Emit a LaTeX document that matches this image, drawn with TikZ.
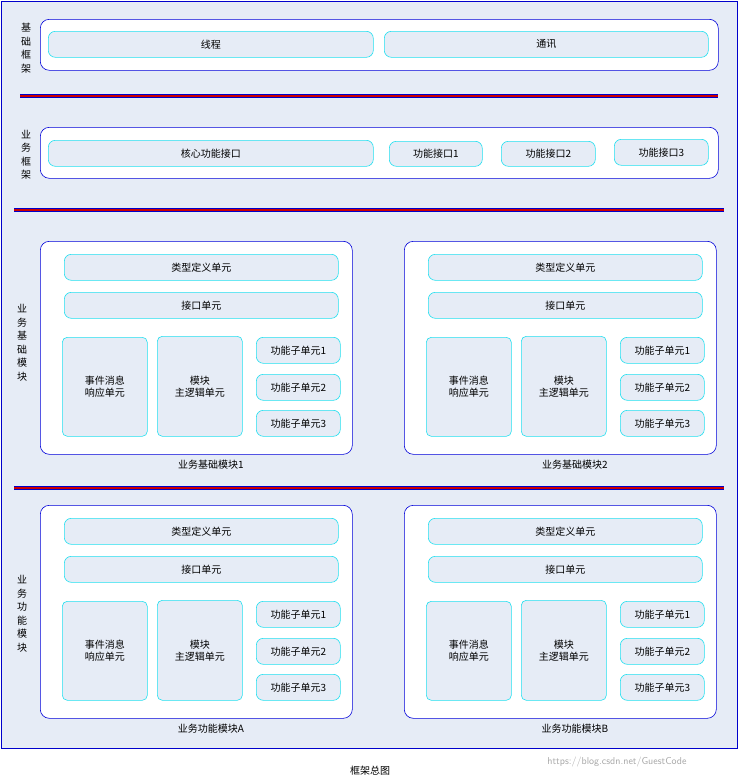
\documentclass[tikz,border=0pt]{standalone}
\usepackage{fontspec}
\setmainfont{Liberation Serif}
\newfontfamily\cjk{Noto Sans CJK SC}
\begin{document}
\begin{tikzpicture}[x=1pt,y=-1pt,
  font=\cjk\fontsize{10}{12}\selectfont,
  bg/.style={draw=blue!80!black,fill=bgc,line width=0.6pt},
  grp/.style={draw=blue!85!black,fill=white,rounded corners=9pt,line width=0.6pt},
  pill/.style={draw=cyanb,fill=bgc,rounded corners=7pt,line width=0.6pt,align=center},
  blk/.style={draw=cyanb,fill=bgc,rounded corners=5pt,line width=0.6pt,align=center},
  lbl/.style={align=center,font=\cjk\fontsize{10}{13.5}\selectfont},
]
\definecolor{bgc}{HTML}{E6ECF6}
\definecolor{cyanb}{HTML}{22E0F0}
\useasboundingbox (0,0) rectangle (738,780);
\node[bg,minimum width=736,minimum height=747,anchor=north west,inner sep=0] (outer) at (1,1) {};
\node (cap) at (370,771) {框架总图};
\node[text=gray!70,font=\sffamily\fontsize{10}{12}\selectfont] (wm) at (617,762) {https://blog.csdn.net/GuestCode};
\newcommand\boxat[5]{\node[#1,anchor=north west,minimum width={#4-#2},minimum height={#5-#3},inner sep=0] at (#2,#3)}
\newcommand\sep[3]{\coordinate (#1a) at (#2,#3); \coordinate (#1b) at (738-#2,#3);
 \draw[blue!80!black,line width=3.2pt] (#1a) -- (#1b); \draw[red!80!black,line width=1.6pt] (#1a) -- (#1b);}
% section 1
\node[lbl] (l1) at (26,48) {基\\础\\框\\架};
\boxat{grp}{40}{19}{718}{70} (g1) {};
\boxat{pill}{48}{31}{373}{57} (p11) {线程};
\boxat{pill}{384}{31}{708}{57} (p12) {通讯};
\sep{s1}{20}{96}
% section 2
\node[lbl] (l2) at (26,155) {业\\务\\框\\架};
\boxat{grp}{40}{127}{718}{178} (g2) {};
\boxat{pill}{48}{140}{373}{166} (p21) {核心功能接口};
\boxat{pill}{389}{141}{482}{166} (p22) {功能接口1};
\boxat{pill}{501}{141}{595}{166} (p23) {功能接口2};
\boxat{pill}{614}{139}{708}{165} (p24) {功能接口3};
\sep{s2}{14}{210}
\node[lbl] (l3) at (22,343) {业\\务\\基\\础\\模\\块};
\sep{s3}{14}{488}
\node[lbl] (l4) at (22,614) {业\\务\\功\\能\\模\\块};
\newcommand\mymod[4]{%
 \begin{scope}[shift={(#1,#2)}]
 \boxat{grp}{40}{241}{352}{454} (#3g) {};
 \boxat{pill}{64}{254}{338}{280} (#3a) {类型定义单元};
 \boxat{pill}{64}{292}{338}{318} (#3b) {接口单元};
 \boxat{blk}{62}{337}{147}{436} (#3c) {事件消息\\响应单元};
 \boxat{blk}{157}{336}{242}{436} (#3d) {模块\\主逻辑单元};
 \boxat{pill}{256}{337}{340}{363} (#3e) {功能子单元1};
 \boxat{pill}{256}{374}{340}{400} (#3f) {功能子单元2};
 \boxat{pill}{256}{410}{340}{436} (#3h) {功能子单元3};
 \node (#3t) at (211,465) {#4};
 \end{scope}}
\mymod{0}{0}{m1}{业务基础模块1}
\mymod{364}{0}{m2}{业务基础模块2}
\mymod{0}{264}{m3}{业务功能模块A}
\mymod{364}{264}{m4}{业务功能模块B}
\end{tikzpicture}
\end{document}
